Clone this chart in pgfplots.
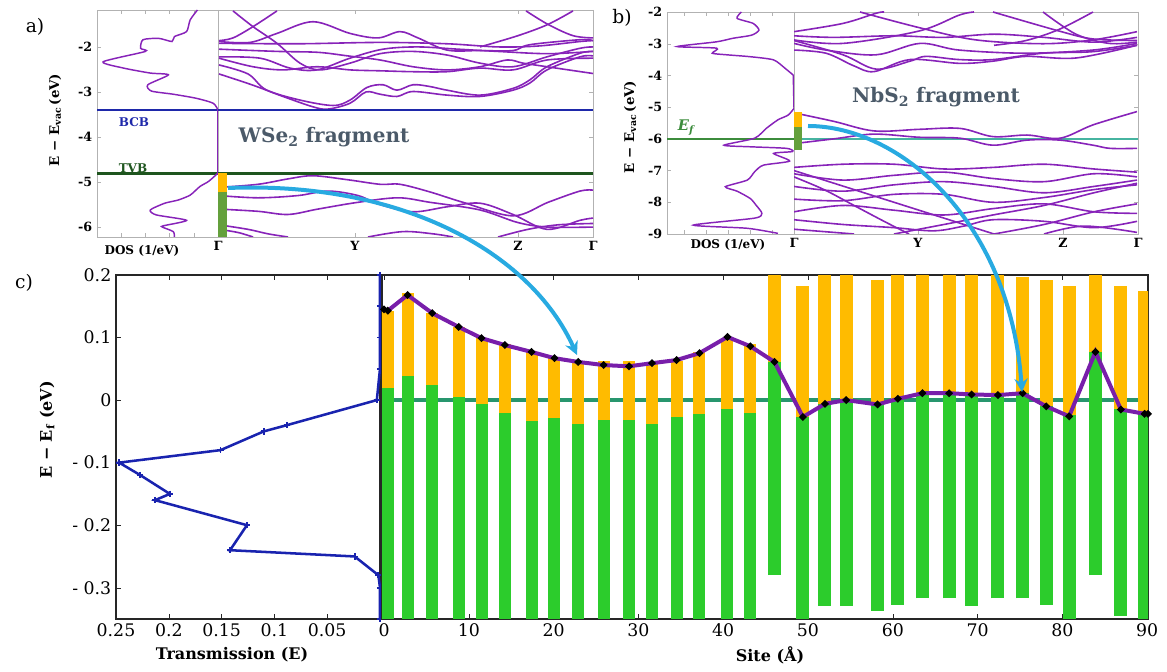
\documentclass[border=0pt]{standalone}
\usepackage{fontspec}
\setmainfont{DejaVu Serif}
\usepackage{pgfplots}
\pgfplotsset{compat=1.18}
\usetikzlibrary{arrows.meta}
\definecolor{bandpurple}{RGB}{135,35,185}
\definecolor{bcbblue}{RGB}{30,40,170}
\definecolor{tvbgreen}{RGB}{30,85,30}
\definecolor{barorange}{RGB}{255,187,0}
\definecolor{bargreen}{RGB}{44,204,44}
\definecolor{smallgreen}{RGB}{100,160,60}
\definecolor{tealzero}{RGB}{40,150,110}
\definecolor{purpleline}{RGB}{120,30,170}
\definecolor{transblue}{RGB}{25,35,175}
\definecolor{arrowcyan}{RGB}{40,170,225}
\definecolor{fragtext}{RGB}{75,90,105}
\definecolor{efgreen}{RGB}{60,140,60}
\definecolor{efteal}{RGB}{70,180,160}
\pgfplotsset{
  panelab/.style={scale only axis, anchor=south west,
    axis line style={draw=gray!60, line width=0.6pt},
    tick style={draw=gray!60, major tick length=3pt},
    ticklabel style={font=\fontsize{9.5}{11}\selectfont\bfseries},
    /pgf/number format/assume math mode=true},
  bands/.style={bandpurple, line width=1.2pt, smooth, tension=0.55, no marks},
  panelc/.style={scale only axis, anchor=south west,
    axis line style={draw=black!85, line width=0.8pt},
    tick style={draw=black!85, major tick length=4pt},
    ticklabel style={font=\fontsize{13}{15}\selectfont},
    /pgf/number format/assume math mode=true},
}
\begin{document}
\begin{tikzpicture}[x=0.75pt,y=0.75pt]
\useasboundingbox (0,0) rectangle (1167,671);

% ---------------- panel a : DOS ----------------
\begin{axis}[panelab, at={(72.75pt,325.5pt)}, width=90.75pt, height=170.25pt,
  x dir=reverse, xmin=0, xmax=1, ymin=-6.22, ymax=-1.18,
  ytick={-6,-5,-4,-3,-2}, ytick pos=left,
  xtick={0.2,0.4,0.6,0.8}, xticklabels={}]
\addplot[bcbblue, line width=1.8pt] coordinates {(0,-3.4) (1,-3.4)};
\addplot[tvbgreen, line width=2.2pt] coordinates {(0,-4.8) (1,-4.8)};
\addplot[bandpurple, line width=1.1pt, smooth, tension=0.4] coordinates {
(0.17,-1.18) (0.23,-1.40) (0.26,-1.66) (0.36,-1.77) (0.38,-1.88) (0.49,-1.81)
(0.62,-1.84) (0.64,-2.03) (0.60,-2.10) (0.95,-2.33) (0.78,-2.47) (0.56,-2.58)
(0.41,-2.62) (0.58,-2.84) (0.55,-2.98) (0.37,-3.05) (0.18,-3.14) (0.04,-3.25)
(0.0,-3.40)};
\addplot[bandpurple, line width=1.1pt] coordinates {(0.0,-3.40) (0.0,-4.80)};
\addplot[bandpurple, line width=1.1pt, smooth, tension=0.4] coordinates {
(0.0,-4.80) (0.02,-4.85) (0.08,-4.99) (0.15,-5.10) (0.23,-5.29) (0.33,-5.40)
(0.44,-5.47) (0.56,-5.62) (0.51,-5.73) (0.26,-5.85) (0.45,-5.97)
(0.46,-6.00) (0.37,-6.10) (0.36,-6.22)};
\end{axis}

% ---------------- panel a : bands ----------------
\begin{axis}[panelab, at={(163.5pt,325.5pt)}, width=281.25pt, height=170.25pt,
  xmin=0, xmax=375, ymin=-6.22, ymax=-1.18,
  ytick={-6,-5,-4,-3,-2}, ytick pos=right, yticklabels={},
  xtick={0,137,300,375}, xticklabels={\textbf{Γ},\textbf{Y},\textbf{Z},\textbf{Γ}}]
\addplot[bands] coordinates {(15,-1.20) (35,-1.55) (59,-1.92) (82,-2.36) (102,-2.51) (132,-2.36) (162,-2.15) (195,-2.10) (229,-2.18) (262,-2.36) (295,-2.44) (329,-2.22) (362,-2.03) (375,-2.0)};
\addplot[bands] coordinates {(59,-1.20) (35,-1.55) (15,-1.80) (1,-1.86)};
\addplot[bands] coordinates {(1,-1.88) (32,-1.90) (59,-1.70) (95,-1.44) (132,-1.70) (160,-1.80) (182,-1.66) (200,-1.80) (229,-2.07) (262,-2.08) (295,-2.08) (312,-1.95) (362,-1.84) (375,-1.86)};
\addplot[bands] coordinates {(1,-1.92) (80,-1.93) (162,-1.90) (229,-1.93) (280,-2.00) (320,-1.98) (362,-1.88) (375,-1.86)};
\addplot[bands] coordinates {(1,-2.05) (60,-2.10) (100,-2.12) (130,-2.20) (162,-2.29) (195,-2.44) (229,-2.51) (262,-2.44) (289,-2.29) (305,-2.36) (329,-2.44) (375,-2.59)};
\addplot[bands] coordinates {(1,-2.22) (42,-2.25) (72,-2.47) (99,-2.51) (132,-2.25) (165,-2.05) (200,-2.00) (240,-2.05) (280,-2.10) (330,-2.15) (375,-2.10)};
\addplot[bands] coordinates {(1,-2.25) (35,-2.44) (65,-2.51) (99,-2.44) (132,-2.51) (162,-2.53) (195,-2.55) (229,-2.55) (262,-2.47) (295,-2.51) (329,-2.29) (375,-2.25)};
\addplot[bands] coordinates {(1,-2.40) (30,-2.60) (48,-2.95) (82,-3.18) (115,-3.30) (132,-3.18) (149,-2.90) (165,-2.84) (179,-2.96) (195,-2.84) (212,-2.88) (229,-2.96) (262,-3.07) (295,-2.92) (312,-2.73) (329,-2.44) (362,-2.14) (375,-2.10)};
\addplot[bands] coordinates {(1,-2.60) (35,-2.85) (65,-3.10) (95,-3.33) (110,-3.38) (132,-3.25) (148,-3.00) (162,-3.05) (179,-3.10) (195,-2.99) (229,-3.07) (262,-3.10) (295,-2.96) (312,-2.80) (329,-2.51) (362,-2.22) (375,-2.20)};
\addplot[bands] coordinates {(308,-1.20) (330,-1.50) (355,-1.75) (375,-1.80)};
\addplot[bands] coordinates {(355,-1.20) (330,-1.50) (300,-1.75) (262,-2.00)};
\addplot[bands] coordinates {(1,-5.12) (40,-5.05) (70,-4.93) (95,-4.86) (130,-4.95) (162,-5.05) (182,-5.05) (212,-5.22) (245,-5.45) (295,-5.75) (330,-5.45) (362,-5.20) (375,-5.18)};
\addplot[bands] coordinates {(1,-5.30) (40,-5.35) (80,-5.30) (110,-5.20) (140,-5.30) (162,-5.50) (195,-5.66) (229,-5.55) (262,-5.47) (295,-5.72) (329,-6.05) (362,-5.85) (375,-5.80)};
\addplot[bands] coordinates {(1,-5.60) (40,-5.65) (70,-5.72) (100,-5.60) (140,-5.45) (180,-5.35) (212,-5.45) (262,-5.62) (300,-5.90) (330,-6.00) (375,-6.00)};
\addplot[bands] coordinates {(1,-5.95) (30,-6.05) (50,-6.15) (70,-6.22)};
\addplot[bands] coordinates {(1,-6.05) (20,-6.12) (35,-6.22)};
\addplot[bands] coordinates {(280,-6.22) (310,-6.05) (340,-5.95) (375,-5.92)};
\addplot[bands] coordinates {(150,-6.22) (185,-6.10) (215,-6.15) (235,-6.22)};
\addplot[bcbblue, line width=1.8pt] coordinates {(0,-3.4) (375,-3.4)};
\addplot[tvbgreen, line width=2.2pt] coordinates {(0,-4.8) (375,-4.8)};
\addplot[barorange, line width=7pt] coordinates {(4.5,-4.8) (4.5,-5.22)};
\addplot[smallgreen, line width=7pt] coordinates {(4.5,-5.22) (4.5,-6.22)};
\end{axis}

% ---------------- panel b : DOS ----------------
\begin{axis}[panelab, at={(500.25pt,327.75pt)}, width=95.25pt, height=166.5pt,
  x dir=reverse, xmin=0, xmax=0.87, ymin=-9, ymax=-2,
  ytick={-9,-8,-7,-6,-5,-4,-3,-2}, ytick pos=left,
  xtick={0.15,0.3,0.45,0.6,0.75}, xticklabels={}]
\addplot[efgreen, line width=1.4pt] coordinates {(0,-6) (0.87,-6)};
\addplot[bandpurple, line width=1.1pt, smooth, tension=0.4] coordinates {
(0.36,-2.0) (0.39,-2.2) (0.28,-2.36) (0.24,-2.57) (0.29,-2.73) (0.42,-2.83)
(0.53,-2.94) (0.80,-3.09) (0.53,-3.14) (0.56,-3.30) (0.46,-3.35) (0.30,-3.41)
(0.14,-3.51) (0.06,-3.78) (0.005,-3.99)};
\addplot[bandpurple, line width=1.1pt] coordinates {(0.005,-3.99) (0.0,-5.04)};
\addplot[bandpurple, line width=1.1pt, smooth, tension=0.4] coordinates {
(0.0,-5.04) (0.04,-5.25) (0.11,-5.40) (0.19,-5.67) (0.27,-5.98) (0.48,-6.20)
(0.30,-6.25) (0.05,-6.30) (0.01,-6.40) (0.14,-6.46) (0.03,-6.70) (0.21,-6.83)
(0.27,-7.04) (0.32,-7.30) (0.47,-7.51) (0.39,-7.65) (0.30,-7.88) (0.26,-8.09)
(0.22,-8.35) (0.27,-8.50) (0.69,-8.72) (0.32,-8.82) (0.11,-8.98)};
\end{axis}

% ---------------- panel b : bands ----------------
\begin{axis}[panelab, at={(595.5pt,327.75pt)}, width=258pt, height=166.5pt,
  xmin=0, xmax=344, ymin=-9, ymax=-2,
  ytick={-9,-8,-7,-6,-5,-4,-3,-2}, ytick pos=right, yticklabels={},
  xtick={0,124,269,344}, xticklabels={\textbf{Γ},\textbf{Y},\textbf{Z},\textbf{Γ}}]
\addplot[bands] coordinates {(0,-2.62) (49,-2.36) (82,-2.04) (90,-2.0)};
\addplot[bands] coordinates {(0,-2.88) (49,-2.99) (125,-2.60) (165,-2.10) (180,-2.0)};
\addplot[bands] coordinates {(66,-2.0) (126,-2.50) (182,-2.88) (249,-3.00) (299,-2.88) (343,-2.62)};
\addplot[bands] coordinates {(0,-2.99) (32,-3.20) (82,-3.35) (126,-2.99) (165,-3.20) (232,-3.30) (299,-3.20) (343,-2.99)};
\addplot[bands] coordinates {(0,-2.90) (49,-3.35) (82,-3.80) (116,-3.55) (132,-3.40) (165,-3.50) (199,-3.50) (249,-3.30) (299,-3.25) (343,-3.05)};
\addplot[bands] coordinates {(0,-3.20) (32,-3.30) (60,-3.70) (80,-3.88) (116,-3.50) (166,-3.62) (199,-3.55) (232,-3.40) (282,-3.45) (343,-3.05)};
\addplot[bands] coordinates {(199,-2.0) (265,-2.60) (299,-2.85) (343,-2.90)};
\addplot[bands] coordinates {(299,-2.0) (265,-2.55) (232,-2.90) (200,-3.05)};
\addplot[bands] coordinates {(249,-2.0) (282,-2.70) (315,-2.99) (343,-2.95)};
\addplot[bands] coordinates {(0,-2.75) (40,-2.80) (100,-2.75) (150,-2.80) (200,-2.70) (250,-2.80) (300,-2.95) (343,-2.80)};
\addplot[efteal, line width=1.2pt] coordinates {(0,-6) (344,-6)};
\addplot[bands] coordinates {(0,-5.18) (40,-5.45) (80,-5.75) (125,-5.70) (166,-5.67) (199,-5.93) (233,-5.88) (266,-5.98) (299,-5.56) (343,-5.14)};
\addplot[bands] coordinates {(0,-6.15) (40,-6.00) (80,-5.85) (125,-5.95) (166,-5.98) (199,-6.20) (233,-6.04) (266,-6.04) (299,-6.20) (316,-6.30) (343,-6.30)};
\addplot[bands] coordinates {(0,-6.90) (49,-6.80) (100,-6.80) (150,-6.95) (199,-6.90) (250,-6.80) (300,-6.95) (343,-7.05)};
\addplot[bands] coordinates {(0,-7.10) (49,-7.30) (100,-7.15) (150,-7.05) (199,-7.25) (250,-7.35) (300,-7.10) (343,-7.20)};
\addplot[bands] coordinates {(0,-7.00) (40,-7.40) (80,-7.80) (120,-8.20) (150,-8.50) (180,-8.80) (200,-9.0)};
\addplot[bands] coordinates {(0,-7.20) (30,-7.60) (60,-8.10) (90,-8.60) (115,-9.0)};
\addplot[bands] coordinates {(0,-7.50) (49,-7.65) (100,-7.45) (150,-7.35) (199,-7.50) (250,-7.70) (300,-7.50) (343,-7.30)};
\addplot[bands] coordinates {(0,-7.90) (49,-7.95) (100,-7.75) (150,-7.75) (199,-8.00) (250,-7.85) (300,-7.60) (343,-7.45)};
\addplot[bands] coordinates {(0,-8.30) (49,-8.10) (100,-8.25) (150,-8.40) (199,-8.20) (250,-8.05) (300,-8.30) (343,-8.35)};
\addplot[bands] coordinates {(0,-8.55) (49,-8.70) (100,-8.80) (140,-8.90) (170,-8.75) (199,-8.55) (250,-8.60) (300,-8.80) (343,-8.60)};
\addplot[bands] coordinates {(100,-9.0) (150,-8.70) (199,-8.40) (250,-8.10) (300,-7.70) (343,-7.40)};
\addplot[bands] coordinates {(200,-9.0) (250,-8.70) (300,-8.30) (343,-8.05)};
\addplot[bands] coordinates {(0,-8.85) (40,-8.95) (60,-9.0)};
\addplot[bands] coordinates {(250,-9.0) (290,-8.75) (343,-8.95)};
\addplot[barorange, line width=6pt] coordinates {(3.5,-5.15) (3.5,-5.63)};
\addplot[smallgreen, line width=6pt] coordinates {(3.5,-5.63) (3.5,-6.35)};
\end{axis}

% ---------------- panel c : transmission ----------------
\begin{axis}[panelc, at={(87pt,39pt)}, width=198pt, height=258pt,
  x dir=reverse, xmin=0, xmax=0.25, ymin=-0.35, ymax=0.2, clip=false,
  xtick={0,0.05,0.1,0.15,0.2,0.25}, xticklabels={,0.05,0.1,0.15,0.2,0.25},
  ytick={-0.3,-0.2,-0.1,0,0.1,0.2}, yticklabels={- 0.3,- 0.2,- 0.1,0,0.1,0.2},
  ytick pos=left]
\addplot[transblue, line width=1.9pt, mark=+, mark size=2.4pt, mark options={line width=1.4pt}] coordinates {
(0,0.2) (0,0.15) (0,0.1) (0,0.05) (0.003,0) (0.088,-0.04) (0.110,-0.05) (0.151,-0.08)
(0.247,-0.10) (0.227,-0.12) (0.199,-0.15) (0.213,-0.16) (0.126,-0.20) (0.142,-0.24)
(0.024,-0.25) (0.0015,-0.28) (0,-0.30) (0,-0.35)};
\end{axis}

% ---------------- panel c : band alignment ----------------
\begin{axis}[panelc, at={(286.5pt,39pt)}, width=574.5pt, height=258pt,
  xmin=-0.24, xmax=90.1, ymin=-0.35, ymax=0.2,
  xtick={0,10,20,30,40,50,60,70,80,90}, ytick=\empty]
\addplot[tealzero, line width=3.5pt] coordinates {(-0.24,0) (90.1,0)};
\addplot[bargreen, line width=9pt, unbounded coords=jump] coordinates {
(0.45,-0.35) (0.45,0.019) (0.45,nan)
(2.77,-0.35) (2.77,0.039) (2.77,nan)
(5.68,-0.35) (5.68,0.024) (5.68,nan)
(8.8,-0.35) (8.8,0.005) (8.8,nan)
(11.5,-0.35) (11.5,-0.006) (11.5,nan)
(14.25,-0.35) (14.25,-0.020) (14.25,nan)
(17.4,-0.35) (17.4,-0.033) (17.4,nan)
(20.1,-0.35) (20.1,-0.029) (20.1,nan)
(22.9,-0.35) (22.9,-0.038) (22.9,nan)
(25.9,-0.35) (25.9,-0.032) (25.9,nan)
(28.9,-0.35) (28.9,-0.032) (28.9,nan)
(31.6,-0.35) (31.6,-0.039) (31.6,nan)
(34.5,-0.35) (34.5,-0.027) (34.5,nan)
(37.2,-0.35) (37.2,-0.023) (37.2,nan)
(40.5,-0.35) (40.5,-0.0145) (40.5,nan)
(43.2,-0.35) (43.2,-0.021)};
\addplot[barorange, line width=9pt, unbounded coords=jump] coordinates {
(0.45,0.019) (0.45,0.142) (0.45,nan)
(2.77,0.039) (2.77,0.171) (2.77,nan)
(5.68,0.024) (5.68,0.140) (5.68,nan)
(8.8,0.005) (8.8,0.117) (8.8,nan)
(11.5,-0.006) (11.5,0.099) (11.5,nan)
(14.25,-0.020) (14.25,0.090) (14.25,nan)
(17.4,-0.033) (17.4,0.077) (17.4,nan)
(20.1,-0.029) (20.1,0.069) (20.1,nan)
(22.9,-0.038) (22.9,0.0625) (22.9,nan)
(25.9,-0.032) (25.9,0.0625) (25.9,nan)
(28.9,-0.032) (28.9,0.0625) (28.9,nan)
(31.6,-0.039) (31.6,0.060) (31.6,nan)
(34.5,-0.027) (34.5,0.0625) (34.5,nan)
(37.2,-0.023) (37.2,0.077) (37.2,nan)
(40.5,-0.0145) (40.5,0.100) (40.5,nan)
(43.2,-0.021) (43.2,0.090)};
\addplot[bargreen, line width=9.8pt, unbounded coords=jump] coordinates {
(46.05,-0.280) (46.05,0.061) (46.05,nan)
(49.4,-0.35) (49.4,-0.027) (49.4,nan)
(52.0,-0.329) (52.0,-0.0065) (52.0,nan)
(54.5,-0.329) (54.5,0.0) (54.5,nan)
(58.2,-0.337) (58.2,-0.0065) (58.2,nan)
(60.6,-0.327) (60.6,0.002) (60.6,nan)
(63.5,-0.317) (63.5,0.011) (63.5,nan)
(66.65,-0.317) (66.65,0.011) (66.65,nan)
(69.3,-0.329) (69.3,0.008) (69.3,nan)
(72.4,-0.317) (72.4,0.011) (72.4,nan)
(75.3,-0.317) (75.3,0.011) (75.3,nan)
(78.1,-0.327) (78.1,-0.0096) (78.1,nan)
(80.8,-0.35) (80.8,-0.024) (80.8,nan)
(83.9,-0.280) (83.9,0.077) (83.9,nan)
(86.9,-0.345) (86.9,-0.0145) (86.9,nan)
(89.7,-0.35) (89.7,-0.022)};
\addplot[barorange, line width=9.8pt, unbounded coords=jump] coordinates {
(46.05,0.061) (46.05,0.2) (46.05,nan)
(49.4,-0.027) (49.4,0.183) (49.4,nan)
(52.0,-0.0065) (52.0,0.2) (52.0,nan)
(54.5,0.0) (54.5,0.2) (54.5,nan)
(58.2,-0.0065) (58.2,0.192) (58.2,nan)
(60.6,0.002) (60.6,0.2) (60.6,nan)
(63.5,0.011) (63.5,0.2) (63.5,nan)
(66.65,0.011) (66.65,0.2) (66.65,nan)
(69.3,0.008) (69.3,0.2) (69.3,nan)
(72.4,0.011) (72.4,0.2) (72.4,nan)
(75.3,0.011) (75.3,0.197) (75.3,nan)
(78.1,-0.0096) (78.1,0.192) (78.1,nan)
(80.8,-0.024) (80.8,0.183) (80.8,nan)
(83.9,0.077) (83.9,0.2) (83.9,nan)
(86.9,-0.0145) (86.9,0.183) (86.9,nan)
(89.7,-0.022) (89.7,0.174)};
\addplot[purpleline, line width=3pt, mark=*, mark size=0.9pt, mark options={fill=black, draw=black}] coordinates {
(0,0.145) (0.45,0.143) (2.77,0.168) (5.68,0.139) (8.8,0.117) (11.5,0.099) (14.25,0.088)
(17.4,0.077) (20.1,0.067) (22.9,0.061) (25.9,0.056) (28.9,0.054) (31.6,0.059) (34.5,0.064)
(37.2,0.075) (40.5,0.101) (43.2,0.086) (46.05,0.061) (49.4,-0.027) (52.0,-0.006) (54.5,0.0)
(58.2,-0.007) (60.6,0.002) (63.5,0.011) (66.65,0.011) (69.3,0.009) (72.4,0.008) (75.3,0.011)
(78.1,-0.010) (80.8,-0.026) (83.9,0.077) (86.9,-0.015) (89.7,-0.022) (90.1,-0.022)};
\end{axis}

% ---------------- labels ----------------
\node[font=\fontsize{14}{16}\selectfont] at (35,644) {a)};
\node[font=\fontsize{14}{16}\selectfont] at (622,653) {b)};
\node[font=\fontsize{14}{16}\selectfont] at (24,388) {c)};
\node[rotate=90, font=\fontsize{10}{12}\selectfont\bfseries] at (55,551) {E − E\textsubscript{vac}\,(eV)};
\node[rotate=90, font=\fontsize{10}{12}\selectfont\bfseries] at (630,544) {E − E\textsubscript{vac}\,(eV)};
\node[rotate=90, font=\fontsize{12}{14}\selectfont\bfseries] at (47,241) {E − E\textsubscript{f} (eV)};
\node[font=\fontsize{9}{11}\selectfont\bfseries] at (142,420) {DOS (1/eV)};
\node[font=\fontsize{9}{11}\selectfont\bfseries] at (728,426) {DOS (1/eV)};
\node[font=\fontsize{12}{14}\selectfont\bfseries] at (232,16) {Transmission (E)};
\node[font=\fontsize{12}{14}\selectfont\bfseries] at (770,16) {Site (Å)};
\node[font=\fontsize{9}{11}\selectfont\bfseries, text=bcbblue] at (134,549) {BCB};
\node[font=\fontsize{9}{11}\selectfont\bfseries, text=tvbgreen] at (133,503) {TVB};
\node[font=\fontsize{15}{17}\selectfont\bfseries, text=fragtext] at (324,534) {WSe\textsubscript{2} fragment};
\node[font=\fontsize{15}{17}\selectfont\bfseries, text=fragtext] at (936,574) {NbS\textsubscript{2} fragment};
\node[font=\fontsize{11}{13}\selectfont\bfseries\itshape, text=efgreen] at (686,543) {E\textsubscript{f}};

% ---------------- arrows ----------------
\draw[arrowcyan, line width=3pt, -{Stealth[length=10pt,width=10pt]}] (228,483) .. controls (400,490) and (530,420) .. (577,316);
\draw[arrowcyan, line width=3pt, -{Stealth[length=10pt,width=10pt]}] (808,545) .. controls (900,545) and (1010,450) .. (1022,279);
\end{tikzpicture}
\end{document}
